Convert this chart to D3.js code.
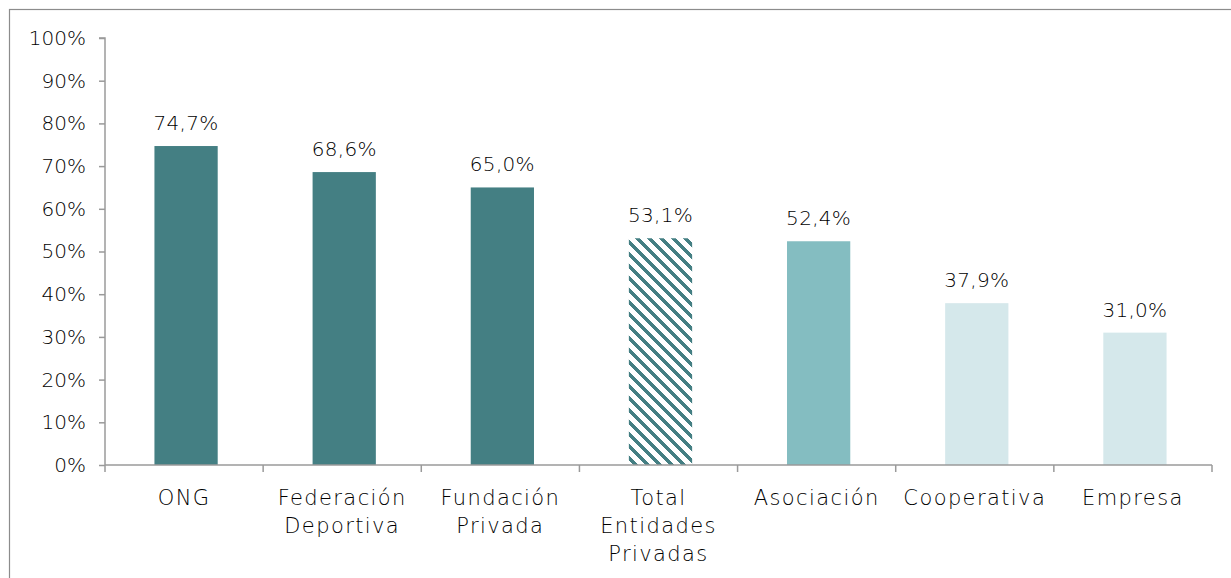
<!DOCTYPE html>
<html>
<head>
<meta charset="utf-8">
<script src="https://cdn.jsdelivr.net/npm/d3@7"></script>
<style>
  body { margin: 0; background: #fff; }
  text { font-family: "DejaVu Sans", sans-serif; font-weight: 200; fill: #000; }
</style>
</head>
<body>
<svg id="chart" width="1231" height="578"></svg>
<script>
// Data
// ----
const categories = ["ONG", "Federación Deportiva", "Fundación Privada", "Total Entidades Privadas", "Asociación", "Cooperativa", "Empresa"];
const values = [74.7, 68.6, 65.0, 53.1, 52.4, 37.9, 31.0];
const fills = ["dark", "dark", "dark", "hatch", "mid", "light", "light"];
const yTicks = [0, 10, 20, 30, 40, 50, 60, 70, 80, 90, 100];

const colors = { dark: "#447f83", mid: "#84bdc1", light: "#d5e8eb", hatch: "url(#hatch)" };

const width = 1231, height = 578;
const margin = { left: 105, right: 19, top: 38, bottom: 113 };

const svg = d3.select("#chart");

// outer frame (runs off the right and bottom edges)
svg.append("rect")
  .attr("x", 9.5).attr("y", 9.5)
  .attr("width", width).attr("height", height)
  .attr("fill", "none").attr("stroke", "#8c8c8c").attr("stroke-width", 1.2);

// hatch pattern for the total bar
const pat = svg.append("defs").append("pattern")
  .attr("id", "hatch")
  .attr("patternUnits", "userSpaceOnUse")
  .attr("width", 12).attr("height", 12);
pat.append("rect").attr("width", 12).attr("height", 12).attr("fill", "#fff");
pat.append("path")
  .attr("d", "M0,0 L5,0 L12,7 L12,12 Z M0,7 L5,12 L0,12 Z")
  .attr("fill", "#447f83")
  .attr("shape-rendering", "crispEdges");

const x = d3.scaleBand()
  .domain(categories)
  .range([margin.left, width - margin.right])
  .paddingInner(0.6).paddingOuter(0.3);

const y = d3.scaleLinear()
  .domain([0, 100])
  .range([height - margin.bottom, margin.top]);

// bars (sit a touch right of the band centre, as in the original)
const barShift = 2;
svg.append("g").selectAll("rect")
  .data(categories)
  .join("rect")
  .attr("x", d => x(d) + barShift)
  .attr("width", x.bandwidth())
  .attr("y", (d, i) => y(values[i]))
  .attr("height", (d, i) => y(0) - y(values[i]))
  .attr("fill", (d, i) => colors[fills[i]]);

// value labels
svg.append("g").selectAll("text")
  .data(categories)
  .join("text")
  .attr("x", d => x(d) + x.bandwidth() / 2 + barShift)
  .attr("y", (d, i) => y(values[i]) - 16)
  .attr("text-anchor", "middle")
  .attr("font-size", 20)
  .attr("letter-spacing", 0.3)
  .text((d, i) => values[i].toFixed(1).replace(".", ",") + "%");

// y axis
const yAxis = svg.append("g")
  .attr("transform", `translate(${margin.left},0)`)
  .call(d3.axisLeft(y).tickValues(yTicks).tickSize(6).tickPadding(13).tickFormat(d => d + "%"));
yAxis.selectAll("text").attr("font-size", 20).attr("font-family", null).attr("fill", "#000");

// x axis: ticks at category boundaries
const bounds = d3.range(categories.length + 1).map(i => margin.left + i * (width - margin.left - margin.right) / categories.length);
const xAxis = svg.append("g");
xAxis.append("line")
  .attr("x1", margin.left).attr("x2", width - margin.right)
  .attr("y1", y(0)).attr("y2", y(0));
xAxis.selectAll(".tk")
  .data(bounds)
  .join("line")
  .attr("x1", d => d).attr("x2", d => d)
  .attr("y1", y(0)).attr("y2", y(0) + 7);

svg.selectAll(".domain, .tick line").attr("stroke", "#9a9a9a").attr("stroke-width", 1.5);
xAxis.selectAll("line").attr("stroke", "#9a9a9a").attr("stroke-width", 1.5);
yAxis.select(".domain").attr("d", `M-6,${y(100)}H0V${y(0)}`);

// category labels, wrapped onto words
const catLabels = svg.append("g").selectAll("text")
  .data(categories)
  .join("text")
  .attr("text-anchor", "middle")
  .attr("font-size", 21)
  .attr("letter-spacing", 1.4)
  .attr("y", y(0) + 40);
catLabels.each(function (d) {
  const words = d.split(" ");
  const cx = x(d) + x.bandwidth() / 2;
  d3.select(this).selectAll("tspan")
    .data(words)
    .join("tspan")
    .attr("x", cx)
    .attr("dy", (w, i) => i ? 28 : 0)
    .text(w => w);
});
</script>
</body>
</html>
